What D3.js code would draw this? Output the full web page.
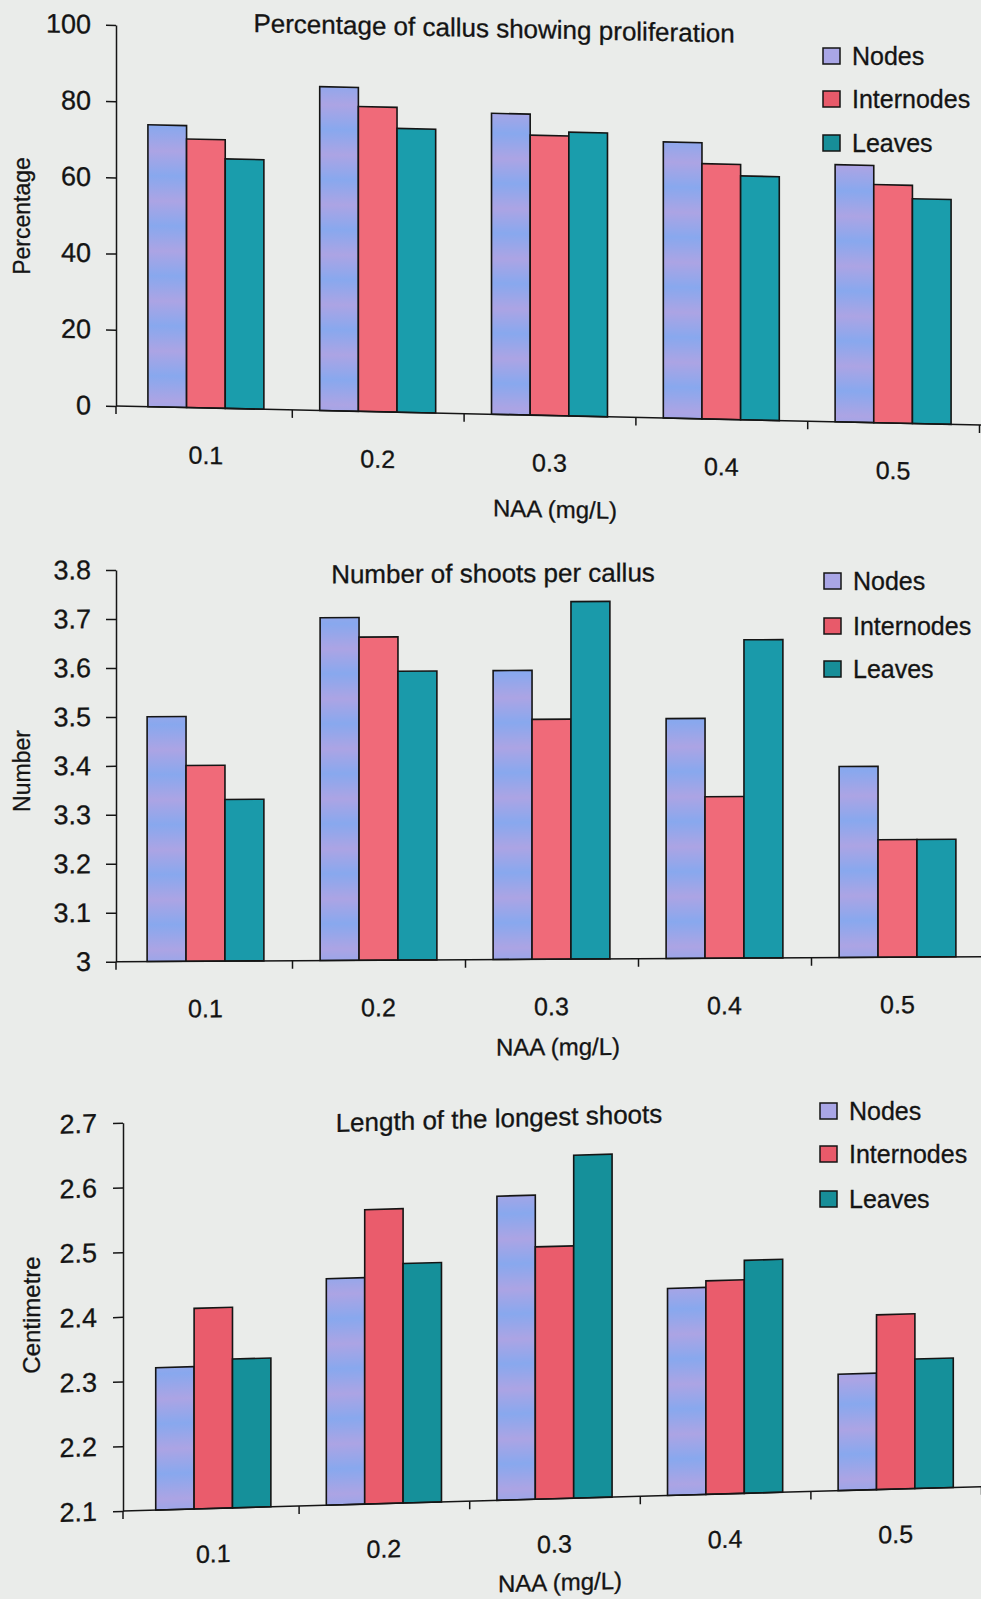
<!DOCTYPE html>
<html>
<head>
<meta charset="utf-8">
<script src="https://cdn.jsdelivr.net/npm/d3@7"></script>
<style>
  body { margin: 0; background: #eaecea; }
  svg { display: block; }
  text { font-family: "Liberation Sans", Arial, sans-serif; fill: #141414; stroke: #141414; stroke-width: 0.3px; }
</style>
</head>
<body>
<div id="chart"></div>
<script>
// Categories (NAA concentration, mg/L) and series names
const categories = ['0.1', '0.2', '0.3', '0.4', '0.5'];
const seriesNames = ['Nodes', 'Internodes', 'Leaves'];

// Panel 1: percentage of callus showing proliferation
const prolifNodes      = [74, 85, 79, 72.5, 67.5];
const prolifInternodes = [70.5, 80, 73.5, 67, 62.5];
const prolifLeaves     = [65.5, 74.5, 74.5, 64, 59];
const prolifTicks      = [0, 20, 40, 60, 80, 100];

// Panel 2: number of shoots per callus
const shootNodes      = [3.5, 3.7, 3.59, 3.49, 3.39];
const shootInternodes = [3.4, 3.66, 3.49, 3.33, 3.24];
const shootLeaves     = [3.33, 3.59, 3.73, 3.65, 3.24];
const shootTicks      = [3, 3.1, 3.2, 3.3, 3.4, 3.5, 3.6, 3.7, 3.8];

// Panel 3: length of the longest shoots (cm)
const lengthNodes      = [2.32, 2.45, 2.57, 2.42, 2.28];
const lengthInternodes = [2.41, 2.555, 2.49, 2.43, 2.37];
const lengthLeaves     = [2.33, 2.47, 2.63, 2.46, 2.3];
const lengthTicks      = [2.1, 2.2, 2.3, 2.4, 2.5, 2.6, 2.7];

const W = 981, H = 1599;

// layout of each panel (the scan is slightly sheared, "tilt" reproduces that)
const panels = [
  { title: 'Percentage of callus showing proliferation', yLabel: 'Percentage',
    values: [prolifNodes, prolifInternodes, prolifLeaves], ticks: prolifTicks, domain: [0, 100],
    axisX: 116, xRange: [120, 979], yRange: [406, 25], tilt: 0.022, tickPad: 15,
    titleX: 494, titleY: 29, labelDy: 56, naaX: 555, naaDy: 102,
    yLabelX: 30, yLabelY: 216, yLabelSize: 23, legendX: 823, legendY: [65, 108, 152],
    colors: ['url(#nodesPat)', '#f06a79', '#1a9dac'] },
  { title: 'Number of shoots per callus', yLabel: 'Number',
    values: [shootNodes, shootInternodes, shootLeaves], ticks: shootTicks, domain: [3, 3.8],
    axisX: 116, xRange: [119, 984], yRange: [961.7, 570], tilt: -0.0058, tickPad: 15,
    titleX: 493, titleY: 584.5, labelDy: 56, naaX: 558, naaDy: 96,
    yLabelX: 30, yLabelY: 771, yLabelSize: 23, legendX: 824, legendY: [590, 635, 678],
    colors: ['url(#nodesPat)', '#f06a79', '#1a9aaa'] },
  { title: 'Length of the longest shoots', yLabel: 'Centimetre',
    values: [lengthNodes, lengthInternodes, lengthLeaves], ticks: lengthTicks, domain: [2.1, 2.7],
    axisX: 123, xRange: [128, 981], yRange: [1511, 1122.7], tilt: -0.0284, tickPad: 16,
    titleX: 499, titleY: 1138, labelDy: 54, naaX: 560, naaDy: 92,
    yLabelX: 40, yLabelY: 1315, yLabelSize: 24, legendX: 820, legendY: [1120, 1163, 1208],
    colors: ['url(#nodesPat)', '#ea5c6c', '#15909a'] }
];

const svg = d3.select('#chart').append('svg')
  .attr('width', W)
  .attr('height', H);

// banded lavender / blue fill of the Nodes bars
const defs = svg.append('defs');
const grad = defs.append('linearGradient')
  .attr('id', 'nodesGrad')
  .attr('x1', 0).attr('y1', 0).attr('x2', 0).attr('y2', 1);
grad.append('stop').attr('offset', '0%').attr('stop-color', '#aca4e4');
grad.append('stop').attr('offset', '50%').attr('stop-color', '#88a8ee');
grad.append('stop').attr('offset', '100%').attr('stop-color', '#aca4e4');
const pat = defs.append('pattern')
  .attr('id', 'nodesPat')
  .attr('patternUnits', 'userSpaceOnUse')
  .attr('width', 1000).attr('height', 50);
pat.append('rect').attr('width', 1000).attr('height', 50).attr('fill', 'url(#nodesGrad)');

const legendSolid = ['#a9a6e6', '#e85a6a', '#178e98'];

panels.forEach(p => {
  const base = p.yRange[0];

  const g = svg.append('g')
    .attr('transform', `translate(${p.axisX},${base}) matrix(1,${p.tilt},0,1,0,0) translate(${-p.axisX},${-base})`);

  const x = d3.scaleBand()
    .domain(categories)
    .range(p.xRange)
    .paddingInner(0.325)
    .paddingOuter(0.1625);

  const xs = d3.scaleBand()
    .domain(seriesNames)
    .range([0, x.bandwidth()]);

  const y = d3.scaleLinear()
    .domain(p.domain)
    .range(p.yRange);

  const barData = categories.flatMap((c, i) =>
    seriesNames.map((s, j) => ({ c, s, j, v: p.values[j][i] })));

  // bars
  g.selectAll('.bar')
    .data(barData)
    .join('rect')
    .attr('class', 'bar')
    .attr('x', d => x(d.c) + xs(d.s))
    .attr('y', d => y(d.v))
    .attr('width', xs.bandwidth())
    .attr('height', d => base - y(d.v))
    .attr('fill', d => p.colors[d.j])
    .attr('stroke', '#151515')
    .attr('stroke-width', 1.6);

  // y axis
  const yAxis = g.append('g')
    .attr('transform', `translate(${p.axisX},0)`)
    .call(d3.axisLeft(y).tickValues(p.ticks).tickSize(10).tickSizeOuter(0)
      .tickPadding(p.tickPad).tickFormat(d => String(d)));
  yAxis.selectAll('path, line').attr('stroke', '#151515').attr('stroke-width', 1.5);
  yAxis.selectAll('text').style('font-size', '27px').attr('fill', '#141414');

  // x axis: line from y axis, ticks at category boundaries
  const xb = d3.scaleLinear().domain([0, categories.length]).range(p.xRange);
  const xAxis = g.append('g')
    .attr('transform', `translate(0,${base})`)
    .call(d3.axisBottom(xb).tickValues(d3.range(1, categories.length + 1))
      .tickSize(8).tickSizeOuter(0).tickFormat(''));
  xAxis.select('.domain').remove();
  xAxis.selectAll('line').attr('stroke', '#151515').attr('stroke-width', 1.5);
  g.append('line')
    .attr('x1', p.axisX).attr('x2', W + 5)
    .attr('y1', base).attr('y2', base)
    .attr('stroke', '#151515').attr('stroke-width', 1.5);
  g.append('line')
    .attr('x1', p.axisX).attr('x2', p.axisX)
    .attr('y1', base).attr('y2', base + 8)
    .attr('stroke', '#151515').attr('stroke-width', 1.5);

  // category labels
  g.selectAll('.cat')
    .data(categories)
    .join('text')
    .attr('class', 'cat')
    .attr('x', c => x(c) + x.bandwidth() / 2)
    .attr('y', base + p.labelDy)
    .attr('text-anchor', 'middle')
    .style('font-size', '25px')
    .text(c => c);

  // x axis title
  g.append('text')
    .attr('x', p.naaX)
    .attr('y', base + p.naaDy)
    .attr('text-anchor', 'middle')
    .style('font-size', '24px')
    .text('NAA (mg/L)');

  // chart title
  g.append('text')
    .attr('x', p.titleX)
    .attr('y', p.titleY)
    .attr('text-anchor', 'middle')
    .style('font-size', '26px')
    .text(p.title);

  // y axis title
  svg.append('text')
    .attr('transform', `translate(${p.yLabelX},${p.yLabelY}) rotate(-90)`)
    .attr('text-anchor', 'middle')
    .style('font-size', p.yLabelSize + 'px')
    .text(p.yLabel);

  // legend
  const lg = svg.append('g');
  seriesNames.forEach((s, j) => {
    lg.append('rect')
      .attr('x', p.legendX)
      .attr('y', p.legendY[j] - 17)
      .attr('width', 17)
      .attr('height', 16)
      .attr('fill', legendSolid[j])
      .attr('stroke', '#151515')
      .attr('stroke-width', 1.5);
    lg.append('text')
      .attr('x', p.legendX + 29)
      .attr('y', p.legendY[j])
      .style('font-size', '25px')
      .text(s);
  });
});
</script>
</body>
</html>
